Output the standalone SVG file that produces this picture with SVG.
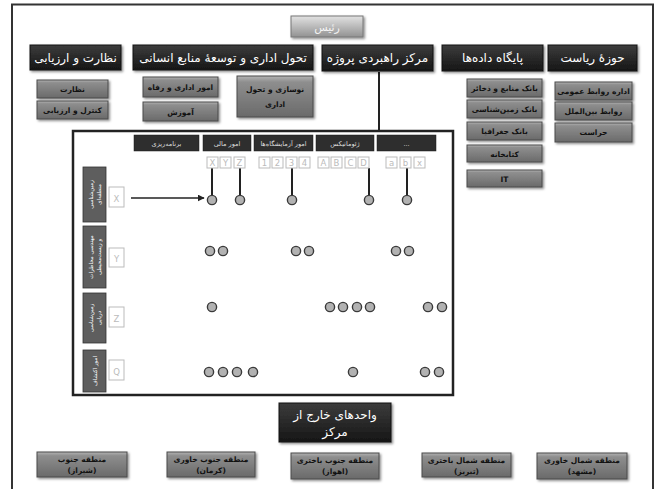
<svg xmlns="http://www.w3.org/2000/svg" width="657" height="489" viewBox="0 0 657 489">
<defs>
<linearGradient id="gDark" x1="0" y1="0" x2="0" y2="1"><stop offset="0" stop-color="#3c3c3c"/><stop offset="1" stop-color="#161616"/></linearGradient>
<linearGradient id="gGray" x1="0" y1="0" x2="0" y2="1"><stop offset="0" stop-color="#b4b4b4"/><stop offset="0.15" stop-color="#8e8e8e"/><stop offset="1" stop-color="#6a6a6a"/></linearGradient>
<linearGradient id="gTop" x1="0" y1="0" x2="0" y2="1"><stop offset="0" stop-color="#e2e2e2"/><stop offset="1" stop-color="#929292"/></linearGradient>
<filter id="sh" x="-10%" y="-20%" width="130%" height="160%"><feDropShadow dx="1.5" dy="1.5" stdDeviation="1" flood-color="#000" flood-opacity="0.45"/></filter>
<marker id="arr" viewBox="0 0 10 10" refX="9" refY="5" markerWidth="7" markerHeight="7" orient="auto" markerUnits="userSpaceOnUse"><path d="M0,0 L10,5 L0,10 z" fill="#222"/></marker>
<style>
text{font-family:"DejaVu Sans","Noto Sans",sans-serif;text-anchor:middle;direction:rtl}
.dk{fill:url(#gDark);stroke:#111;stroke-width:1;filter:url(#sh)}
.gr{fill:url(#gGray);stroke:#4a4a4a;stroke-width:1;filter:url(#sh)}
.tp{fill:url(#gTop);stroke:#777;stroke-width:1;filter:url(#sh)}
.dt{fill:#fff;font-size:12px}
.gt{fill:#111;font-size:7.5px;font-weight:bold}
.hb{fill:#2e2e2e;stroke:#1a1a1a;stroke-width:0.5}
.ht{fill:#ddd;font-size:6.5px}
.lb{fill:#fff;stroke:#bbb;stroke-width:1}
.lt{fill:#bbb;font-size:8.5px;direction:ltr}
.rl{fill:#5e5e5e;stroke:#333;stroke-width:0.8}
.rt{fill:#fff;font-size:5.5px}
.dot{fill:#b2b2b2;stroke:#3a3a3a;stroke-width:1.4}
.ln{stroke:#222;stroke-width:2;fill:none}
</style>
</defs>
<rect width="657" height="489" fill="#fff"/>
<path d="M12,492 V4.5 H653 V492" fill="none" stroke="#333" stroke-width="2"/>

<g id="connectors">
<line class="ln" x1="379" y1="72" x2="379" y2="131" stroke-width="1.5"/>
<line class="ln" x1="212" y1="168" x2="212" y2="196"/>
<line class="ln" x1="240" y1="168" x2="240" y2="196"/>
<line class="ln" x1="292" y1="168" x2="292" y2="196"/>
<line class="ln" x1="369" y1="168" x2="369" y2="196"/>
<line class="ln" x1="407" y1="168" x2="407" y2="196"/>
<line x1="131" y1="198" x2="204" y2="198" stroke="#222" stroke-width="1.5" marker-end="url(#arr)"/>
</g>

<g id="n-raees"><rect class="tp" x="291" y="16" width="72" height="21"/><text x="327" y="31" fill="#f4f4f4" font-size="11">رئیس</text></g>

<g id="n-nezarat-arzyabi"><rect class="dk" x="30" y="45" width="91" height="25"/><text class="dt" x="75.5" y="62">نظارت و ارزیابی</text></g>
<g id="n-tahavol"><rect class="dk" x="133" y="45" width="180" height="25"/><text class="dt" x="223" y="62">تحول اداری و توسعهٔ منابع انسانی</text></g>
<g id="n-markaz"><rect class="dk" x="322" y="45" width="111" height="26"/><text class="dt" x="377.5" y="62">مرکز راهبردی پروژه</text></g>
<g id="n-paygah"><rect class="dk" x="442" y="45" width="101" height="26"/><text class="dt" x="492.5" y="62">پایگاه داده‌ها</text></g>
<g id="n-hozeh"><rect class="dk" x="548" y="45" width="89" height="26"/><text class="dt" x="592.5" y="62">حوزهٔ ریاست</text></g>

<g id="n-nezarat"><rect class="gr" x="37" y="80" width="71" height="18"/><text class="gt" x="72.5" y="92">نظارت</text></g>
<g id="n-kontrol"><rect class="gr" x="37" y="101" width="71" height="18"/><text class="gt" x="72.5" y="113">کنترل و ارزیابی</text></g>
<g id="n-omoor-edari"><rect class="gr" x="143" y="77" width="75" height="20"/><text class="gt" x="180.5" y="90">امور اداری و رفاه</text></g>
<g id="n-amoozesh"><rect class="gr" x="143" y="102" width="75" height="19"/><text class="gt" x="180.5" y="115" font-size="8.5">آموزش</text></g>
<g id="n-nosazi"><rect class="gr" x="237" y="76" width="76" height="41"/><text class="gt" x="275" y="92" font-size="10">نوسازی و تحول</text><text class="gt" x="275" y="107" font-size="10">اداری</text></g>

<g id="n-bank-manabe"><rect class="gr" x="467" y="79" width="75" height="18"/><text class="gt" x="504.5" y="91">بانک منابع و ذخائر</text></g>
<g id="n-bank-zamin"><rect class="gr" x="467" y="100" width="75" height="18"/><text class="gt" x="504.5" y="112">بانک زمین‌شناسی</text></g>
<g id="n-bank-joghrafia"><rect class="gr" x="467" y="122" width="75" height="18"/><text class="gt" x="504.5" y="134">بانک جغرافیا</text></g>
<g id="n-ketabkhaneh"><rect class="gr" x="467" y="145" width="75" height="17"/><text class="gt" x="504.5" y="157">کتابخانه</text></g>
<g id="n-it"><rect class="gr" x="467" y="170" width="75" height="17"/><text class="gt" x="504.5" y="182" font-size="8.5">IT</text></g>

<g id="n-ravabet-omoomi"><rect class="gr" x="555" y="82" width="77" height="18"/><text class="gt" x="593.5" y="94">اداره روابط عمومی</text></g>
<g id="n-ravabet-beinolmelal"><rect class="gr" x="555" y="102" width="77" height="18"/><text class="gt" x="593.5" y="114">روابط بین‌الملل</text></g>
<g id="n-herasat"><rect class="gr" x="555" y="123" width="77" height="19"/><text class="gt" x="593.5" y="135">حراست</text></g>

<g id="matrix">
<rect x="73" y="131" width="380" height="264" fill="none" stroke="#222" stroke-width="2.5"/>
<rect class="hb" x="134" y="135" width="65" height="16"/><text class="ht" x="166.5" y="145.5">برنامه‌ریزی</text>
<rect class="hb" x="203" y="135" width="48" height="16"/><text class="ht" x="227" y="145.5">امور مالی</text>
<rect class="hb" x="254" y="135" width="59" height="16"/><text class="ht" x="283.5" y="145.5">امور آزمایشگاه‌ها</text>
<rect class="hb" x="316" y="135" width="58" height="16"/><text class="ht" x="345" y="145.5">ژئوماتیکس</text>
<rect class="hb" x="377" y="135" width="59" height="16"/><text class="ht" x="406.5" y="145.5">...</text>

<rect class="lb" x="207" y="157" width="11" height="11"/><text class="lt" x="212.5" y="165.5">X</text>
<rect class="lb" x="220" y="157" width="11" height="11"/><text class="lt" x="225.5" y="165.5">Y</text>
<rect class="lb" x="234" y="157" width="11" height="11"/><text class="lt" x="239.5" y="165.5">Z</text>
<rect class="lb" x="259" y="157" width="11" height="11"/><text class="lt" x="264.5" y="165.5">1</text>
<rect class="lb" x="272" y="157" width="11" height="11"/><text class="lt" x="277.5" y="165.5">2</text>
<rect class="lb" x="286" y="157" width="11" height="11"/><text class="lt" x="291.5" y="165.5">3</text>
<rect class="lb" x="299" y="157" width="11" height="11"/><text class="lt" x="304.5" y="165.5">4</text>
<rect class="lb" x="318" y="157" width="11" height="11"/><text class="lt" x="323.5" y="165.5">A</text>
<rect class="lb" x="331" y="157" width="11" height="11"/><text class="lt" x="336.5" y="165.5">B</text>
<rect class="lb" x="345" y="157" width="11" height="11"/><text class="lt" x="350.5" y="165.5">C</text>
<rect class="lb" x="358" y="157" width="11" height="11"/><text class="lt" x="363.5" y="165.5">D</text>
<rect class="lb" x="386" y="157" width="11" height="11"/><text class="lt" x="391.5" y="165.5">a</text>
<rect class="lb" x="400" y="157" width="11" height="11"/><text class="lt" x="405.5" y="165.5">b</text>
<rect class="lb" x="414" y="157" width="11" height="11"/><text class="lt" x="419.5" y="165.5">x</text>

<rect class="rl" x="83" y="167" width="23" height="55"/>
<g transform="translate(94.5,194.5) rotate(-90)"><text class="rt" y="-2">زمین‌شناسی</text><text class="rt" y="6">منطقه‌ای</text></g>
<rect class="lb" x="109" y="187" width="15" height="20"/><text class="lt" x="116.5" y="201.5" font-size="12">X</text>

<rect class="rl" x="83" y="226" width="23" height="62"/>
<g transform="translate(94.5,257) rotate(-90)"><text class="rt" y="-2">مهندسی مخاطرات</text><text class="rt" y="6">و زیست‌محیطی</text></g>
<rect class="lb" x="109" y="248" width="15" height="19"/><text class="lt" x="116.5" y="262" font-size="12">Y</text>

<rect class="rl" x="83" y="293" width="23" height="50"/>
<g transform="translate(94.5,318) rotate(-90)"><text class="rt" y="-2">زمین‌شناسی</text><text class="rt" y="6">دریایی</text></g>
<rect class="lb" x="109" y="307" width="15" height="20"/><text class="lt" x="116.5" y="321.5" font-size="12">Z</text>

<rect class="rl" x="83" y="350" width="23" height="42"/>
<g transform="translate(94.5,371) rotate(-90)"><text class="rt" y="2">امور اکتشاف</text></g>
<rect class="lb" x="109" y="360" width="15" height="20"/><text class="lt" x="116.5" y="374.5" font-size="12">Q</text>

<g id="dots">
<circle class="dot" cx="212" cy="200" r="4.6"/><circle class="dot" cx="240" cy="200" r="4.6"/><circle class="dot" cx="292" cy="200" r="4.6"/><circle class="dot" cx="369" cy="200" r="4.6"/><circle class="dot" cx="407" cy="200" r="4.6"/>
<circle class="dot" cx="210" cy="251" r="4.6"/><circle class="dot" cx="223" cy="251" r="4.6"/><circle class="dot" cx="296" cy="251" r="4.6"/><circle class="dot" cx="309" cy="251" r="4.6"/><circle class="dot" cx="396" cy="251" r="4.6"/><circle class="dot" cx="409" cy="251" r="4.6"/>
<circle class="dot" cx="212" cy="307" r="4.6"/><circle class="dot" cx="330" cy="307" r="4.6"/><circle class="dot" cx="343" cy="307" r="4.6"/><circle class="dot" cx="357" cy="307" r="4.6"/><circle class="dot" cx="370" cy="307" r="4.6"/><circle class="dot" cx="428" cy="307" r="4.6"/><circle class="dot" cx="442" cy="307" r="4.6"/>
<circle class="dot" cx="209" cy="372" r="4.6"/><circle class="dot" cx="223" cy="372" r="4.6"/><circle class="dot" cx="237" cy="372" r="4.6"/><circle class="dot" cx="253" cy="372" r="4.6"/><circle class="dot" cx="353" cy="372" r="4.6"/><circle class="dot" cx="425" cy="372" r="4.6"/><circle class="dot" cx="439" cy="372" r="4.6"/>
</g>
</g>

<g id="n-vahedha"><rect class="dk" x="279" y="403" width="112" height="39"/><text class="dt" x="335" y="419">واحدهای خارج از</text><text class="dt" x="335" y="436">مرکز</text></g>

<g id="n-jonoob"><rect class="gr" x="37" y="452" width="90" height="25"/><text class="gt" x="82" y="462">منطقه جنوب</text><text class="gt" x="82" y="473">(شیراز)</text></g>
<g id="n-jonoob-khavari"><rect class="gr" x="167" y="452" width="88" height="25"/><text class="gt" x="211" y="462">منطقه جنوب خاوری</text><text class="gt" x="211" y="473">(کرمان)</text></g>
<g id="n-jonoob-bakhtari"><rect class="gr" x="291" y="453" width="88" height="26"/><text class="gt" x="335" y="463">منطقه جنوب باختری</text><text class="gt" x="335" y="474">(اهواز)</text></g>
<g id="n-shomal-bakhtari"><rect class="gr" x="422" y="453" width="89" height="24"/><text class="gt" x="466.5" y="463">منطقه شمال باختری</text><text class="gt" x="466.5" y="474">(تبریز)</text></g>
<g id="n-shomal-khavari"><rect class="gr" x="537" y="453" width="90" height="26"/><text class="gt" x="582" y="463">منطقه شمال خاوری</text><text class="gt" x="582" y="474">(مشهد)</text></g>
</svg>
